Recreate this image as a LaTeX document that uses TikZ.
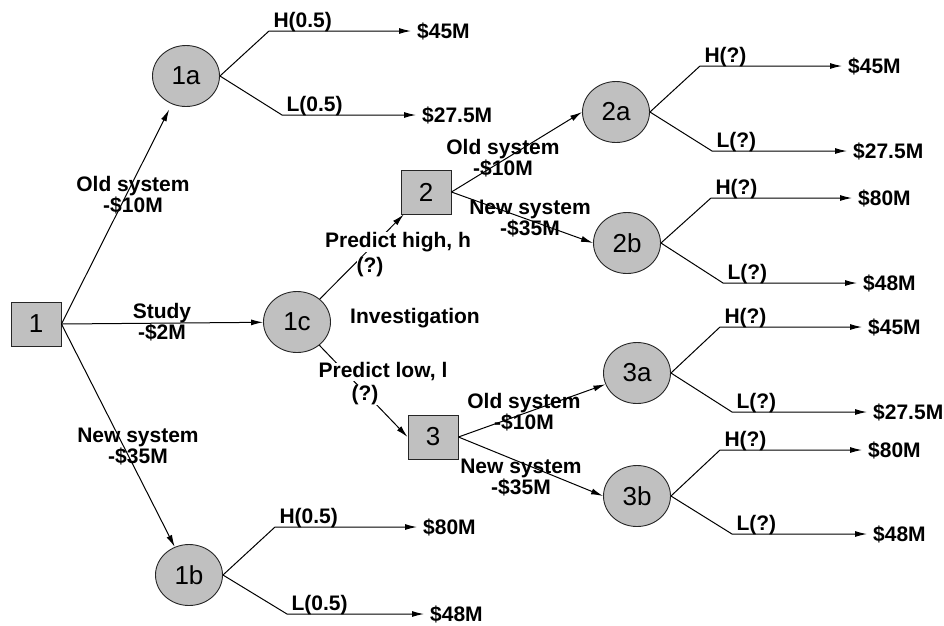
\documentclass[tikz,border=0pt]{standalone}
\usepackage{fontspec}
\setmainfont{Liberation Sans}
\usepackage{tikz}
\usetikzlibrary{shapes, arrows.meta, positioning}
\definecolor{nodegray}{RGB}{192, 192, 192}

\tikzset{
  decision/.style={draw=black!85, line width=0.9pt, fill=nodegray, minimum width=50pt, minimum height=44pt, inner sep=0pt, font=\fontsize{26}{26}\selectfont},
  chance/.style={ellipse, draw=black!85, line width=0.9pt, fill=nodegray, minimum width=67pt, minimum height=61pt, inner sep=0pt, font=\fontsize{26}{26}\selectfont},
  lbl/.style={font=\fontsize{21}{21}\selectfont\bfseries, align=center, inner sep=0pt},
  leaf/.style={font=\fontsize{21}{21}\selectfont\bfseries, anchor=west, inner xsep=6pt, inner ysep=1pt},
  prob/.style={font=\fontsize{21}{21}\selectfont\bfseries, anchor=base west, inner sep=0pt, xshift=4pt, yshift=4pt},
  arr/.style={-{Latex[length=12pt,width=6pt]}, line width=1pt}
}

\begin{document}
\begin{tikzpicture}[x=1pt, y=-1pt]
            \useasboundingbox (0,0) rectangle (944,625);
            % decisions and chances
            \node[decision] (d1) at (36,324) {1};
            \node[decision] (d2) at (426,192) {2};
            \node[decision] (d3) at (433,437) {3};
            \node[chance] (c1a) at (186,76) {1a};
            \node[chance] (c1b) at (189,575) {1b};
            \node[chance] (c1c) at (297,322) {1c};
            \node[chance] (c2a) at (616,112) {2a};
            \node[chance] (c2b) at (627,243) {2b};
            \node[chance] (c3a) at (637,373) {3a};
            \node[chance] (c3b) at (637,496) {3b};
            % outcomes
            \node[leaf] (o1aH) at (411,31) {\$45M};
            \node[leaf] (o1aL) at (416,115) {\$27.5M};
            \node[leaf] (o1bH) at (417,527) {\$80M};
            \node[leaf] (o1bL) at (424,614) {\$48M};
            \node[leaf] (o2aH) at (842,66) {\$45M};
            \node[leaf] (o2aL) at (847,151) {\$27.5M};
            \node[leaf] (o2bH) at (852,198) {\$80M};
            \node[leaf] (o2bL) at (857,283) {\$48M};
            \node[leaf] (o3aH) at (862,327) {\$45M};
            \node[leaf] (o3aL) at (867,412) {\$27.5M};
            \node[leaf] (o3bH) at (862,450) {\$80M};
            \node[leaf] (o3bL) at (867,534) {\$48M};
            % decision branches
            \draw[arr, shorten >=6pt] (d1.east) -- (c1a);
            \draw[arr] (d1.east) -- (c1c);
            \draw[arr] (d1.east) -- (c1b);
            \draw[arr] (c1c) -- (d2);
            \draw[arr] (c1c) -- (d3.west);
            \draw[arr] (d2.east) -- (c2a.west);
            \draw[arr] (d2.east) -- (c2b.west);
            \draw[arr] (d3.east) -- (c3a);
            \draw[arr] (d3.east) -- (c3b.west);
            % chance branches
            \draw[arr] (c1a.east) -- (269,31) node[prob] {H(0.5)} -- (o1aH);
            \draw[arr] (c1a.east) -- (282,115) node[prob] {L(0.5)} -- (o1aL);
            \draw[arr] (c1b.east) -- (275,527) node[prob] {H(0.5)} -- (o1bH);
            \draw[arr] (c1b.east) -- (287,614) node[prob] {L(0.5)} -- (o1bL);
            \draw[arr] (c2a.east) -- (700,66) node[prob] {H(?)} -- (o2aH);
            \draw[arr] (c2a.east) -- (712,151) node[prob] {L(?)} -- (o2aL);
            \draw[arr] (c2b.east) -- (711,198) node[prob] {H(?)} -- (o2bH);
            \draw[arr] (c2b.east) -- (723,283) node[prob] {L(?)} -- (o2bL);
            \draw[arr] (c3a.east) -- (720,327) node[prob] {H(?)} -- (o3aH);
            \draw[arr] (c3a.east) -- (732,412) node[prob] {L(?)} -- (o3aL);
            \draw[arr] (c3b.east) -- (720,450) node[prob] {H(?)} -- (o3bH);
            \draw[arr] (c3b.east) -- (732,534) node[prob] {L(?)} -- (o3bL);
            % labels
            \node[lbl] (old1) at (133,195) {Old system\\-\$10M};
            \node[lbl] (study) at (162,322) {Study\\-\$2M};
            \node[lbl] (new1) at (138,447) {New system\\-\$35M};
            \node[lbl] (invest) at (415,318) {Investigation};
            \node[lbl, fill=white] (high) at (398,242) {Predict high, h};
            \node[lbl, fill=white] (highp) at (370,267) {(?)};
            \node[lbl, fill=white] (low) at (383,372) {Predict low, l};
            \node[lbl, fill=white] (lowp) at (365,395) {(?)};
            \node[lbl] (old2) at (503,158) {Old system\\-\$10M};
            \node[lbl] (new2) at (530,219) {New system\\-\$35M};
            \node[lbl] (old3) at (524,412) {Old system\\-\$10M};
            \node[lbl] (new3) at (521,478) {New system\\-\$35M};
        \end{tikzpicture}
\end{document}
